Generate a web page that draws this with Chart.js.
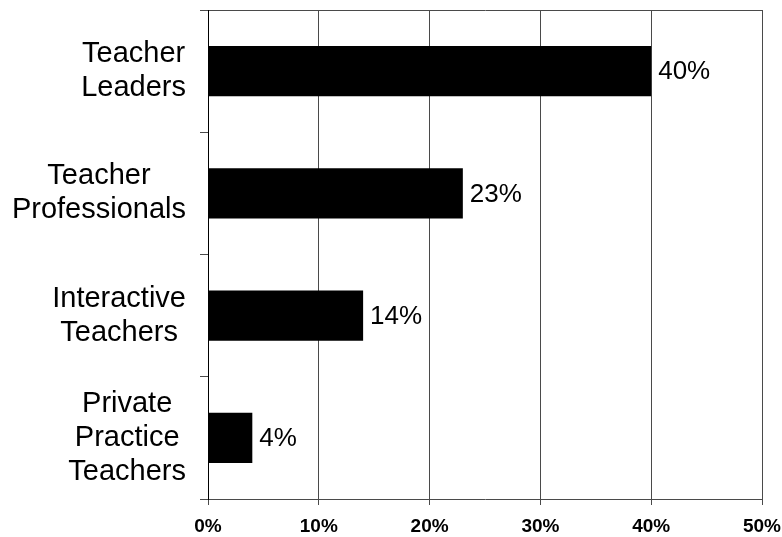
<!DOCTYPE html>
<html>
<head>
<meta charset="utf-8">
<script src="https://cdn.jsdelivr.net/npm/chart.js@4/dist/chart.umd.min.js"></script>
<style>
  body { margin: 0; background: #fff; }
  canvas { display: block; }
</style>
</head>
<body>
<canvas id="chart" width="782" height="537"></canvas>
<script>
// data
const categories = [
  ["Teacher", "Leaders"],
  ["Teacher", "Professionals"],
  ["Interactive", "Teachers"],
  ["Private", "Practice", "Teachers"],
];
const values = [40, 23, 14, 4];
const xTicks = [0, 10, 20, 30, 40, 50];

const fontFamily = '"Liberation Sans", Arial, sans-serif';
const gridColor = "#4a4a4a";

// "40%" style labels just right of each bar
const valueLabels = {
  id: "valueLabels",
  afterDatasetsDraw(chart) {
    const ctx = chart.ctx;
    const meta = chart.getDatasetMeta(0);
    ctx.save();
    ctx.font = "26px " + fontFamily;
    ctx.fillStyle = "#000";
    ctx.textAlign = "left";
    ctx.textBaseline = "middle";
    meta.data.forEach((bar, i) => {
      ctx.fillText(values[i] + "%", bar.x + 7, bar.y + 1);
    });
    ctx.restore();
  },
};

// category labels: each block right aligned, its lines centred (Excel style)
const categoryLabels = {
  id: "categoryLabels",
  afterDraw(chart) {
    const ctx = chart.ctx;
    const yScale = chart.scales.y;
    const lineGap = 34;
    ctx.save();
    ctx.font = "29px " + fontFamily;
    ctx.fillStyle = "#000";
    ctx.textAlign = "center";
    ctx.textBaseline = "middle";
    categories.forEach((lines, i) => {
      const y = yScale.getPixelForValue(i);
      const widest = Math.max(...lines.map((l) => ctx.measureText(l).width));
      const cx = yScale.right - 22 - widest / 2;
      const y0 = y - ((lines.length - 1) * lineGap) / 2;
      lines.forEach((line, j) => {
        ctx.fillText(line, cx, y0 + j * lineGap);
      });
    });
    ctx.restore();
  },
};

const cfg = {
  type: "bar",
  data: {
    labels: categories,
    datasets: [
      {
        data: values,
        backgroundColor: "#000",
        borderWidth: 0,
        barPercentage: 0.41,
        categoryPercentage: 1,
      },
    ],
  },
  options: {
    indexAxis: "y",
    responsive: false,
    animation: false,
    layout: {
      padding: { top: 10, right: 20, left: 0, bottom: 0 },
    },
    plugins: {
      legend: { display: false },
      tooltip: { enabled: false },
    },
    scales: {
      x: {
        min: xTicks[0],
        max: xTicks[xTicks.length - 1],
        afterFit: (scale) => {
          scale.height = 38;
          scale.paddingLeft = 0;
          scale.paddingRight = 0;
        },
        ticks: {
          stepSize: xTicks[1] - xTicks[0],
          callback: (v) => v + "%",
          color: "#000",
          padding: 10,
          font: { family: fontFamily, size: 19, weight: "bold" },
          maxRotation: 0,
        },
        grid: {
          color: gridColor,
          lineWidth: 1,
          tickLength: 6,
        },
        border: { color: gridColor, width: 1 },
      },
      x2: {
        type: "linear",
        position: "top",
        display: true,
        ticks: { display: false },
        grid: { display: false, drawTicks: false },
        border: { color: gridColor, width: 1 },
      },
      y: {
        offset: true,
        afterFit: (scale) => {
          scale.width = 208;
          scale.paddingTop = 0;
          scale.paddingBottom = 0;
        },
        ticks: {
          display: false,
          autoSkip: false,
        },
        grid: {
          offset: true,
          drawOnChartArea: false,
          color: gridColor,
          tickLength: 8,
        },
        border: { color: "#000", width: 1 },
      },
    },
  },
  plugins: [valueLabels, categoryLabels],
};

new Chart(document.getElementById("chart"), cfg);
</script>
</body>
</html>
